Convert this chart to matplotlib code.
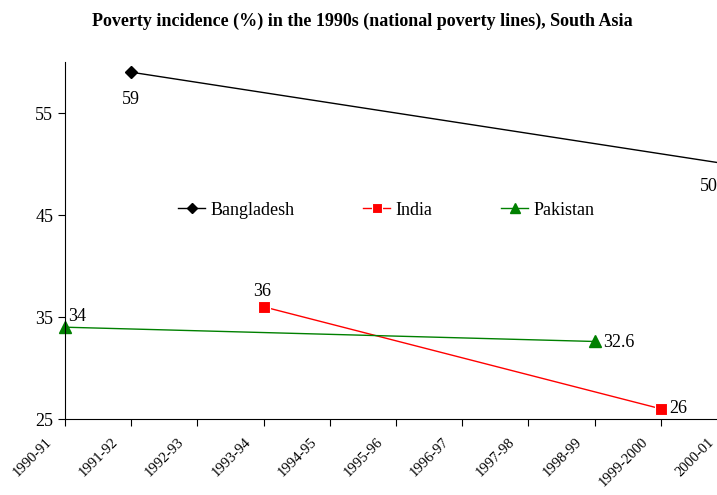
import matplotlib.pyplot as plt

plt.rcParams['font.family'] = ['Liberation Serif', 'DejaVu Serif']

years = ["1990-91", "1991-92", "1992-93", "1993-94", "1994-95", "1995-96",
         "1996-97", "1997-98", "1998-99", "1999-2000", "2000-01"]

bangladesh_x = [1, 10]
bangladesh_y = [59, 50]
india_x = [3, 9]
india_y = [36, 26]
pakistan_x = [0, 8]
pakistan_y = [34, 32.6]

fig = plt.figure(figsize=(7.17, 4.95), dpi=100)
# axes runs a little past the right edge, as in the original
ax = fig.add_axes([65 / 717, 1 - 419 / 495, (727 - 65) / 717, (419 - 62) / 495])

ax.plot(bangladesh_x, bangladesh_y, color="black", lw=1, marker="D", ms=6,
        label="Bangladesh", clip_on=False)
ax.plot(india_x, india_y, color="red", lw=1, marker="s", ms=8, mfc="red",
        mec="white", mew=0.8, label="India", clip_on=False)
ax.plot(pakistan_x, pakistan_y, color="green", lw=1, marker="^", ms=8,
        label="Pakistan", clip_on=False)

fs = 13
ax.annotate("59", (bangladesh_x[0], bangladesh_y[0]), xytext=(0, -20),
            textcoords="offset points", ha="center", va="center", fontsize=fs)
ax.annotate("50", (bangladesh_x[1], bangladesh_y[1]), xytext=(-13, -16),
            textcoords="offset points", ha="center", va="center", fontsize=fs)
ax.annotate("36", (india_x[0], india_y[0]), xytext=(-1, 11),
            textcoords="offset points", ha="center", va="center", fontsize=fs)
ax.annotate("26", (india_x[1], india_y[1]), xytext=(6, 0),
            textcoords="offset points", ha="left", va="center", fontsize=fs)
ax.annotate("34", (pakistan_x[0], pakistan_y[0]), xytext=(2, 8),
            textcoords="offset points", ha="left", va="center", fontsize=fs)
ax.annotate("32.6", (pakistan_x[1], pakistan_y[1]), xytext=(6, -1),
            textcoords="offset points", ha="left", va="center", fontsize=fs)

ax.set_xlim(0, 10)
ax.set_ylim(25, 60)
ax.set_yticks([25, 35, 45, 55])
ax.set_xticks(range(len(years)))
ax.set_xticklabels([])
# rotated year labels, set a bit left of each tick like the original
for i, yr in enumerate(years):
    ax.annotate(yr, (i, 0), xycoords=("data", "axes fraction"),
                xytext=(-11, -15), textcoords="offset points",
                rotation=45, rotation_mode="anchor", ha="right", va="center",
                fontsize=10.5, annotation_clip=False)
ax.tick_params(axis="y", labelsize=13, length=5, direction="out")
ax.tick_params(axis="x", length=5, direction="out")
ax.spines["top"].set_visible(False)
ax.spines["right"].set_visible(False)

ax.legend(loc="center left", bbox_to_anchor=(178 / 717, 1 - 210 / 495),
          bbox_transform=fig.transFigure, ncol=3, frameon=False,
          fontsize=13, columnspacing=3.8, handlelength=1.5,
          handletextpad=0.3, borderpad=0, borderaxespad=0, markerscale=0.85)

fig.suptitle("Poverty incidence (%) in the 1990s (national poverty lines), South Asia",
             x=0.505, y=0.975, fontsize=13, fontweight="bold")

fig.savefig("out.png")
